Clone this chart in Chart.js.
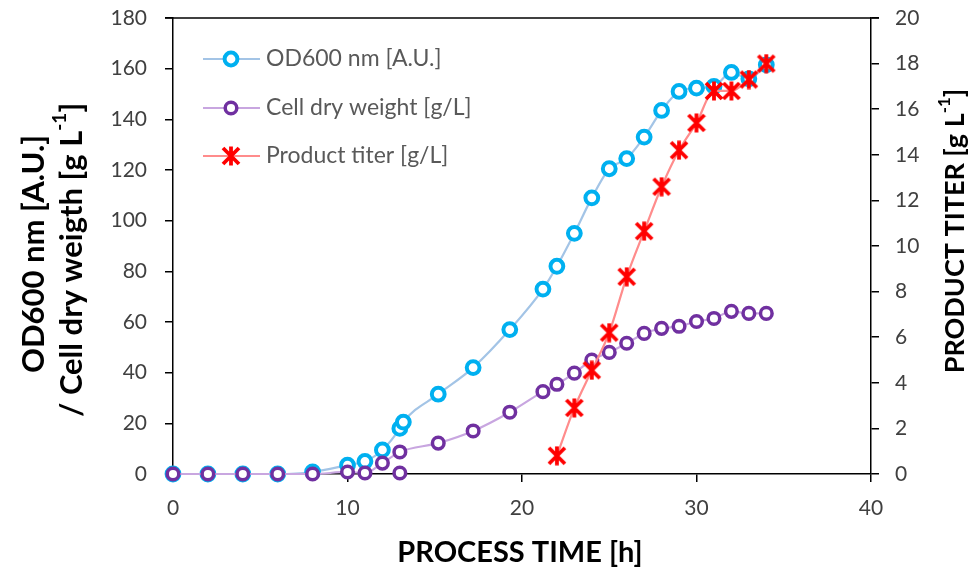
<!DOCTYPE html>
<html>
<head>
<meta charset="utf-8">
<script src="https://cdn.jsdelivr.net/npm/chart.js@4.4.1/dist/chart.umd.min.js"></script>
<style>
  html, body { margin: 0; padding: 0; background: #ffffff; }
  #wrap { width: 972px; height: 571px; }
</style>
</head>
<body>
<div id="wrap"><canvas id="c" width="972" height="571"></canvas></div>
<script>
// Fermentation run: optical density, biomass and product over process time
const odTime = [0, 2, 4, 6, 8, 10, 11, 12, 13, 13.2, 15.2, 17.2, 19.3, 21.2, 22, 23, 24, 25, 26, 27, 28, 29, 30, 31, 32, 33, 34];
const odValues = [0, 0, 0, 0, 0.8, 3.5, 5, 9.5, 18, 20.5, 31.5, 42, 57, 73, 82, 95, 109, 120.5, 124.5, 133, 143.5, 151, 152.3, 153, 158.5, 156, 161.5];

const cdwTime = [0, 2, 4, 6, 8, 10, 11, 12, 13, 15.2, 17.2, 19.3, 21.2, 22, 23, 24, 25, 26, 27, 28, 29, 30, 31, 32, 33, 34];
const cdwValues = [0, 0, 0, 0, 0, 0.8, 0.4, 4.3, 8.7, 12.2, 17, 24.4, 32.5, 35.4, 39.8, 45, 48, 51.6, 55.5, 57.5, 58.3, 60.2, 61.4, 64.2, 63.4, 63.4];
// extra biomass sample taken at 13 h
const cdwExtraTime = [13];
const cdwExtraValues = [0.4];

const titerTime = [22, 23, 24, 25, 26, 27, 28, 29, 30, 31, 32, 33, 34];
const titerValues = [0.8, 2.9, 4.55, 6.2, 8.65, 10.65, 12.6, 14.2, 15.4, 16.8, 16.8, 17.3, 18.0];

const seriesNames = ['OD600 nm [A.U.]', 'Cell dry weight [g/L]', 'Product titer [g/L]'];
const xTitle = 'PROCESS TIME [h]';
const yTitleLines = [['OD600 nm [A.U.]'], ['/ Cell dry weigth [g L', '-1', ']']];
const y2Title = ['PRODUCT TITER [g L', '-1', ']'];

const FONT = "Lato, 'DejaVu Sans', sans-serif";
const OD_MARK = '#00B0F0', OD_LINE = '#A3C4E6';
const CDW_MARK = '#7030A0', CDW_LINE = '#C8A6E0';
const TIT_MARK = '#FF0000', TIT_LINE = '#FF8C8C';

const pairs = (xs, ys) => xs.map((x, i) => ({ x: x, y: ys[i] }));

// asterisk-style marker (X with a vertical stroke)
function makeAsterisk(size, lw, color) {
  const c = document.createElement('canvas');
  c.width = size; c.height = size;
  const g = c.getContext('2d');
  g.strokeStyle = color; g.lineWidth = lw; g.lineCap = 'butt';
  const m = 2, s = size;
  g.beginPath();
  g.moveTo(m, m); g.lineTo(s - m, s - m);
  g.moveTo(s - m, m); g.lineTo(m, s - m);
  g.moveTo(s / 2, 0.5); g.lineTo(s / 2, s - 0.5);
  g.stroke();
  return c;
}
const asterisk = makeAsterisk(20, 3.8, TIT_MARK);

// draws text with superscript parts, centred on (x, y), optionally rotated
function drawRich(ctx, parts, x, y, rot, size) {
  ctx.save();
  ctx.translate(x, y);
  ctx.rotate(rot);
  const big = 'bold ' + size + 'px ' + FONT;
  const small = 'bold ' + Math.round(size * 0.62) + 'px ' + FONT;
  let total = 0;
  const widths = parts.map((p, i) => {
    ctx.font = (i % 2 === 1) ? small : big;
    const w = ctx.measureText(p).width;
    total += w;
    return w;
  });
  let cx = -total / 2;
  ctx.textBaseline = 'middle';
  ctx.textAlign = 'left';
  ctx.fillStyle = '#000000';
  parts.forEach((p, i) => {
    const sup = i % 2 === 1;
    ctx.font = sup ? small : big;
    ctx.fillText(p, cx, sup ? -size * 0.38 : 0);
    cx += widths[i];
  });
  ctx.restore();
}

const decorPlugin = {
  id: 'decor',
  afterDraw(chart) {
    const ctx = chart.ctx;
    const a = chart.chartArea;
    // top frame line
    ctx.save();
    ctx.strokeStyle = '#000000';
    ctx.lineWidth = 1.5;
    ctx.beginPath();
    ctx.moveTo(a.left - 8, a.top);
    ctx.lineTo(a.right + 8, a.top);
    ctx.stroke();
    ctx.restore();

    // axis titles
    drawRich(ctx, [xTitle], 520, 553, 0, 29);
    drawRich(ctx, yTitleLines[0], 34, 254, -Math.PI / 2, 31);
    drawRich(ctx, yTitleLines[1], 72, 260, -Math.PI / 2, 31);
    drawRich(ctx, y2Title, 955, 231, -Math.PI / 2, 27);

    // legend inside the plot area
    const rows = [59, 108, 156];
    const ds = chart.data.datasets;
    ctx.save();
    for (let i = 0; i < 3; i++) {
      const d = ds[i];
      const y = rows[i];
      ctx.strokeStyle = d.borderColor;
      ctx.lineWidth = 2;
      ctx.beginPath();
      ctx.moveTo(203, y); ctx.lineTo(260, y);
      ctx.stroke();
      if (d.pointStyle === 'circle') {
        ctx.beginPath();
        ctx.arc(231, y, d.pointRadius, 0, Math.PI * 2);
        ctx.fillStyle = '#ffffff';
        ctx.fill();
        ctx.lineWidth = d.pointBorderWidth;
        ctx.strokeStyle = d.pointBorderColor;
        ctx.stroke();
      } else {
        ctx.drawImage(d.pointStyle, 231 - d.pointStyle.width / 2, y - d.pointStyle.height / 2);
      }
      ctx.fillStyle = '#595959';
      ctx.font = '23px ' + FONT;
      ctx.textBaseline = 'middle';
      ctx.textAlign = 'left';
      ctx.fillText(seriesNames[i], 266, y);
    }
    ctx.restore();
  }
};

const tickFont = { family: FONT, size: 21 };
const tickColor = '#404040';

// keep the plot frame fixed regardless of label overhang
function noPad(s) {
  s.paddingTop = 0; s.paddingBottom = 0; s.paddingLeft = 0; s.paddingRight = 0;
}

new Chart(document.getElementById('c'), {
  type: 'line',
  data: {
    datasets: [
      {
        label: seriesNames[0],
        data: pairs(odTime, odValues),
        yAxisID: 'y',
        borderColor: OD_LINE, borderWidth: 2.2,
        pointStyle: 'circle', pointRadius: 6.4, pointBorderWidth: 4,
        pointBorderColor: OD_MARK, pointBackgroundColor: '#ffffff',
        cubicInterpolationMode: 'monotone', clip: false, order: 3
      },
      {
        label: seriesNames[1],
        data: pairs(cdwTime, cdwValues),
        yAxisID: 'y',
        borderColor: CDW_LINE, borderWidth: 2.2,
        pointStyle: 'circle', pointRadius: 5.8, pointBorderWidth: 3.5,
        pointBorderColor: CDW_MARK, pointBackgroundColor: '#ffffff',
        cubicInterpolationMode: 'monotone', clip: false, order: 2
      },
      {
        label: seriesNames[2],
        data: pairs(titerTime, titerValues),
        yAxisID: 'y2',
        borderColor: TIT_LINE, borderWidth: 2.2,
        pointStyle: asterisk, pointRadius: 9,
        cubicInterpolationMode: 'monotone', clip: false, order: 1
      },
      {
        label: 'cdw-extra',
        data: pairs(cdwExtraTime, cdwExtraValues),
        yAxisID: 'y',
        showLine: false,
        pointStyle: 'circle', pointRadius: 5.8, pointBorderWidth: 3.5,
        pointBorderColor: CDW_MARK, pointBackgroundColor: '#ffffff',
        clip: false, order: 2
      }
    ]
  },
  options: {
    responsive: false,
    animation: false,
    devicePixelRatio: 1,
    layout: { padding: { top: 18, left: 0, right: 0, bottom: 0 } },
    plugins: { legend: { display: false }, tooltip: { enabled: false } },
    scales: {
      x: {
        type: 'linear', min: 0, max: 40,
        ticks: { stepSize: 10, font: tickFont, color: tickColor, padding: 14, maxRotation: 0 },
        grid: { drawOnChartArea: false, drawTicks: true, tickLength: 8, color: '#000000', lineWidth: 1.5 },
        border: { display: true, color: '#000000', width: 1.5 },
        afterFit(s) { s.height = 97; noPad(s); }
      },
      y: {
        position: 'left', min: 0, max: 180,
        ticks: { stepSize: 20, font: tickFont, color: tickColor, padding: 18 },
        grid: { drawOnChartArea: false, drawTicks: true, tickLength: 8, color: '#000000', lineWidth: 1.5 },
        border: { display: true, color: '#000000', width: 1.5 },
        afterFit(s) { s.width = 173; noPad(s); }
      },
      y2: {
        position: 'right', min: 0, max: 20,
        ticks: { stepSize: 2, font: tickFont, color: tickColor, padding: 16 },
        grid: { drawOnChartArea: false, drawTicks: true, tickLength: 8, color: '#000000', lineWidth: 1.5 },
        border: { display: true, color: '#000000', width: 1.5 },
        afterFit(s) { s.width = 101; noPad(s); }
      }
    }
  },
  plugins: [decorPlugin]
});
</script>
</body>
</html>
